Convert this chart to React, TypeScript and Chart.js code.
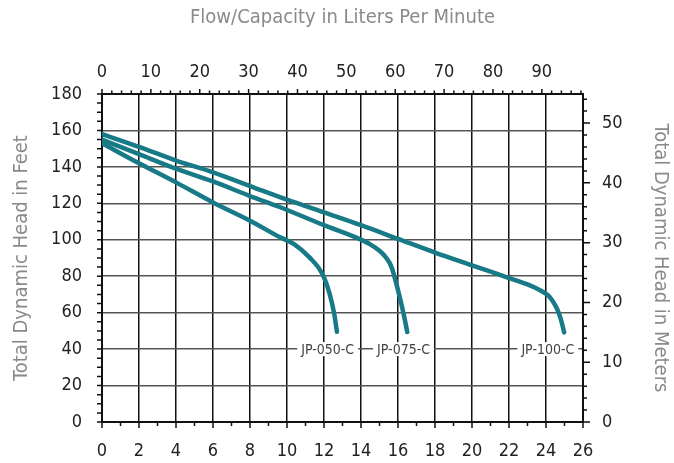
import React, { useEffect, useRef } from "react";
import { Chart, registerables } from "chart.js";

Chart.register(...registerables);

// ---- data ----
const flow050 = [0, 2, 4, 6, 8, 9.6, 10.4, 11.2, 11.9, 12.3, 12.55, 12.7];
const head050 = [153, 142, 131.5, 120.5, 110.5, 101.5, 97.5, 90.5, 81.5, 70.5, 59.5, 49.5];

const flow075 = [0, 2, 4, 6, 8, 9.6, 12, 13.9, 14.5, 15, 15.35, 15.65, 16, 16.3, 16.5];
const head075 = [155, 147, 139, 132, 124, 118, 108, 100.5, 97.5, 94, 90.3, 85, 72.4, 59.5, 49.4];

const flow100 = [0, 2, 4, 6, 8, 10, 12, 14, 16, 18, 20, 22, 23, 23.7, 24.1, 24.35, 24.6, 24.8, 24.98];
const head100 = [158, 151, 143.5, 137, 129.5, 122, 115, 108, 100.5, 93, 86, 79, 75.5, 72.2, 69.6, 66.5, 62, 56.5, 49.2];

const modelNames = ["JP-050-C", "JP-075-C", "JP-100-C"];
const labelFlow = [12.2, 16.3, 24.1];
const labelHead = [40, 40, 40];

const GPM_MAX = 26;
const FT_MAX = 180;
const LPM_PER_GPM = 3.785411784;
const M_PER_FT = 0.3048;

const FONT = "'Liberation Sans Narrow', 'DejaVu Sans Condensed', Roboto, sans-serif";
const TEAL = "#187a86";

const toPts = (xs: number[], ys: number[]) => xs.map((x, i) => ({ x, y: ys[i] }));

const tickMarksPlugin = {
  id: "tickMarks",
  afterDraw(chart: any) {
    const { ctx, scales } = chart;
    const x = scales.x, x2 = scales.x2, y = scales.y, y2 = scales.y2;
    const area = chart.chartArea;
    ctx.save();
    ctx.strokeStyle = "#111";
    ctx.lineWidth = 1.5;
    ctx.beginPath();
    for (let v = 0; v <= GPM_MAX + 1e-9; v += 1) {
      const px = x.getPixelForValue(v);
      const len = v % 2 === 0 ? 6 : 4;
      ctx.moveTo(px, area.bottom);
      ctx.lineTo(px, area.bottom + len);
    }
    for (let v = 0; v <= x2.max + 1e-9; v += 2) {
      const px = x2.getPixelForValue(v);
      const len = v % 10 === 0 ? 5 : 3.5;
      ctx.moveTo(px, area.top);
      ctx.lineTo(px, area.top - len);
    }
    for (let v = 0; v <= FT_MAX + 1e-9; v += 5) {
      const py = y.getPixelForValue(v);
      ctx.moveTo(area.left, py);
      ctx.lineTo(area.left - 5, py);
    }
    for (let v = 0; v <= y2.max + 1e-9; v += 2) {
      const py = y2.getPixelForValue(v);
      const len = v % 10 === 0 ? 7 : 4;
      ctx.moveTo(area.right, py);
      ctx.lineTo(area.right + len, py);
    }
    ctx.stroke();
    ctx.restore();
  },
};

const modelLabelPlugin = {
  id: "modelLabels",
  afterDatasetsDraw(chart: any) {
    const { ctx, scales } = chart;
    ctx.save();
    ctx.font = `14px ${FONT}`;
    ctx.textAlign = "center";
    ctx.textBaseline = "middle";
    modelNames.forEach((name, i) => {
      const px = scales.x.getPixelForValue(labelFlow[i]);
      const py = scales.y.getPixelForValue(labelHead[i]);
      const w = ctx.measureText(name).width;
      ctx.fillStyle = "#ffffff";
      ctx.fillRect(px - w / 2 - 4, py - 7, w + 8, 14);
      ctx.fillStyle = "#444";
      ctx.fillText(name, px, py + 1);
    });
    ctx.restore();
  },
};

export default function App() {
  const ref = useRef<HTMLCanvasElement>(null);

  useEffect(() => {
    if (!ref.current) return;
    const ds = (xs: number[], ys: number[]) => ({
      data: toPts(xs, ys),
      borderColor: TEAL,
      borderWidth: 4.5,
      pointRadius: 0,
      fill: false,
      cubicInterpolationMode: "monotone" as const,
      borderCapStyle: "round" as const,
      borderJoinStyle: "round" as const,
      xAxisID: "x",
      yAxisID: "y",
    });
    const tickFont = { family: FONT, size: 18 };
    const titleFont = { family: FONT, size: 20 };
    const chart = new Chart(ref.current, {
      type: "line",
      data: {
        datasets: [ds(flow050, head050), ds(flow075, head075), ds(flow100, head100)],
      },
      plugins: [tickMarksPlugin, modelLabelPlugin],
      options: {
        animation: false,
        responsive: true,
        maintainAspectRatio: false,
        layout: { padding: 0 },
        plugins: { legend: { display: false }, tooltip: { enabled: false } },
        scales: {
          x: {
            type: "linear",
            position: "bottom",
            min: 0,
            max: GPM_MAX,
            ticks: { stepSize: 2, font: tickFont, color: "#222", padding: 19, maxRotation: 0 },
            grid: { color: "#111", lineWidth: 1.5, drawTicks: false },
            border: { display: true, color: "#111", width: 2 },
            afterFit: (s: any) => { s.height = 41; },
          },
          x2: {
            type: "linear",
            position: "top",
            min: 0,
            max: GPM_MAX * LPM_PER_GPM,
            ticks: { stepSize: 10, includeBounds: false, font: tickFont, color: "#222", padding: 11, maxRotation: 0 },
            grid: { drawOnChartArea: false, drawTicks: false },
            border: { display: true, color: "#111", width: 2 },
            title: { display: true, text: "Flow/Capacity in Liters Per Minute", color: "#8a8a8a", font: titleFont, padding: { top: 6, bottom: 0 } },
            afterFit: (s: any) => { s.height = 94; },
          },
          y: {
            type: "linear",
            position: "left",
            min: 0,
            max: FT_MAX,
            ticks: { stepSize: 20, font: tickFont, color: "#222", padding: 20 },
            grid: { color: "#555", lineWidth: 1.5, drawTicks: false },
            border: { display: true, color: "#111", width: 2 },
            title: { display: true, text: "Total Dynamic Head in Feet", color: "#8a8a8a", font: titleFont, padding: { top: 10, bottom: 0 } },
            afterFit: (s: any) => { s.width = 102; },
          },
          y2: {
            type: "linear",
            position: "right",
            min: 0,
            max: FT_MAX * M_PER_FT,
            ticks: { stepSize: 10, includeBounds: false, font: tickFont, color: "#222", padding: 19 },
            grid: { drawOnChartArea: false, drawTicks: false },
            border: { display: true, color: "#111", width: 2 },
            title: { display: true, text: "Total Dynamic Head in Meters", color: "#8a8a8a", font: titleFont, padding: { top: 2, bottom: 0 } },
            afterFit: (s: any) => { s.width = 91; },
          },
        },
      } as any,
    });
    return () => chart.destroy();
  }, []);

  return (
    <div style={{ position: "fixed", left: 0, top: 0, width: 674, height: 463, background: "#fff" }}>
      <canvas ref={ref} />
    </div>
  );
}
